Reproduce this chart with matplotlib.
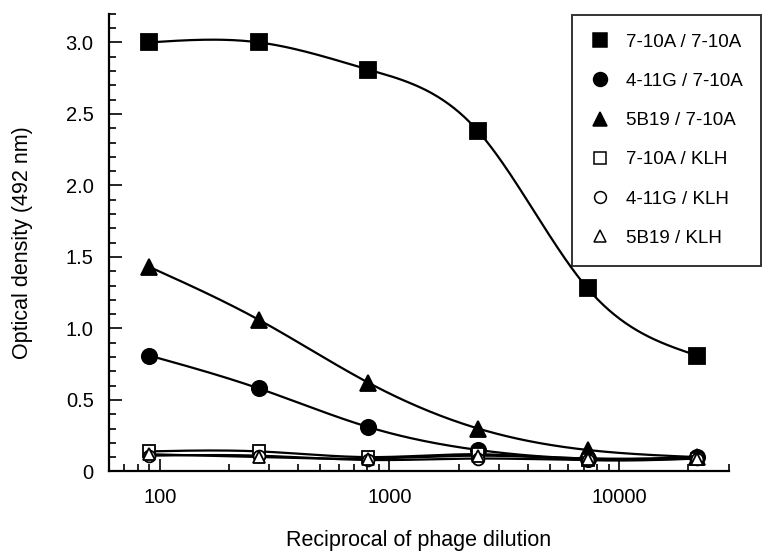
import numpy as np
import matplotlib
matplotlib.use("Agg")
import matplotlib.pyplot as plt
from matplotlib.lines import Line2D
from matplotlib.ticker import FixedLocator, LogLocator, NullFormatter, MultipleLocator, FuncFormatter

plt.rcParams['font.family'] = ['Liberation Sans', 'DejaVu Sans']

dilution = [90, 270, 810, 2430, 7290, 21870]
labels = ["7-10A / 7-10A", "4-11G / 7-10A", "5B19 / 7-10A",
          "7-10A / KLH", "4-11G / KLH", "5B19 / KLH"]
sq_710A = [3.00, 3.00, 2.81, 2.38, 1.28, 0.81]
ci_710A = [0.81, 0.58, 0.31, 0.15, 0.09, 0.10]
tr_710A = [1.43, 1.06, 0.62, 0.30, 0.15, 0.10]
sq_KLH = [0.14, 0.14, 0.10, 0.12, 0.08, 0.09]
ci_KLH = [0.11, 0.11, 0.08, 0.09, 0.08, 0.09]
tr_KLH = [0.12, 0.10, 0.09, 0.11, 0.09, 0.09]
series = [sq_710A, ci_710A, tr_710A, sq_KLH, ci_KLH, tr_KLH]
markers = ['s', 'o', '^', 's', 'o', '^']
filled = [True, True, True, False, False, False]
msizes = [11, 11, 11, 8.5, 8.5, 8.5]


def natural_spline(x, y, xs):
    x = np.asarray(x, float); y = np.asarray(y, float)
    n = len(x)
    h = np.diff(x)
    A = np.zeros((n, n)); b = np.zeros(n)
    A[0, 0] = 1; A[-1, -1] = 1
    for i in range(1, n - 1):
        A[i, i - 1] = h[i - 1]
        A[i, i] = 2 * (h[i - 1] + h[i])
        A[i, i + 1] = h[i]
        b[i] = 3 * ((y[i + 1] - y[i]) / h[i] - (y[i] - y[i - 1]) / h[i - 1])
    c = np.linalg.solve(A, b)
    out = np.empty_like(xs)
    for k, xv in enumerate(xs):
        i = min(max(np.searchsorted(x, xv) - 1, 0), n - 2)
        dx = xv - x[i]
        bi = (y[i + 1] - y[i]) / h[i] - h[i] * (2 * c[i] + c[i + 1]) / 3
        di = (c[i + 1] - c[i]) / (3 * h[i])
        out[k] = y[i] + bi * dx + c[i] * dx ** 2 + di * dx ** 3
    return out


fig = plt.figure(figsize=(7.67, 5.52), dpi=100)
ax = fig.add_axes([0.142, 0.146, 0.808, 0.829])

lx = np.log10(dilution)
xs = np.linspace(lx[0], lx[-1], 300)
handles = []
for vals, m, f, ms, lab in zip(series, markers, filled, msizes, labels):
    ys = natural_spline(lx, vals, xs)
    ax.plot(10 ** xs, ys, color='black', lw=1.6, zorder=2)
    fc = 'black' if f else 'white'
    ax.plot(dilution, vals, linestyle='none', marker=m, markersize=ms,
            markerfacecolor=fc, markeredgecolor='black', markeredgewidth=1.3, zorder=3)
    handles.append(Line2D([], [], linestyle='none', marker=m, markersize=10 if f else 8.5,
                          markerfacecolor=fc, markeredgecolor='black', markeredgewidth=1.1,
                          label=lab))

ax.set_xscale('log')
ax.set_xlim(60, 30000)
ax.set_ylim(0, 3.2)
ax.xaxis.set_major_locator(FixedLocator([100, 1000, 10000]))
ax.xaxis.set_major_formatter(FuncFormatter(lambda v, p: f"{int(round(v))}"))
ax.xaxis.set_minor_locator(LogLocator(base=10, subs=np.arange(2, 10)))
ax.xaxis.set_minor_formatter(NullFormatter())
ax.yaxis.set_major_locator(MultipleLocator(0.5))
ax.yaxis.set_minor_locator(MultipleLocator(0.1))
ax.yaxis.set_major_formatter(FuncFormatter(lambda v, p: "0" if abs(v) < 1e-9 else f"{v:.1f}"))

for s in ['top', 'right']:
    ax.spines[s].set_visible(False)
for s in ['left', 'bottom']:
    ax.spines[s].set_linewidth(1.6)
ax.tick_params(which='both', direction='in', width=1.2, labelsize=14.5)
ax.tick_params(which='major', length=9)
ax.tick_params(which='minor', length=5)
ax.tick_params(axis='y', pad=11)
ax.tick_params(axis='x', pad=12)

ax.set_ylabel("Optical density (492 nm)", fontsize=15.5, va='center')
ax.yaxis.set_label_coords(-0.139, 0.5)
ax.set_xlabel("Reciprocal of phage dilution", fontsize=15.5, va='center')
ax.xaxis.set_label_coords(0.5, -0.15)

leg = ax.legend(handles=handles, loc='upper right', bbox_to_anchor=(1.053, 0.998),
                fontsize=13.5, frameon=True, fancybox=False, edgecolor='black',
                handlelength=1.0, handletextpad=0.9, labelspacing=1.18,
                borderpad=1.0, borderaxespad=0.0)
leg.get_frame().set_linewidth(1.4)

fig.savefig("out.png", dpi=100)
